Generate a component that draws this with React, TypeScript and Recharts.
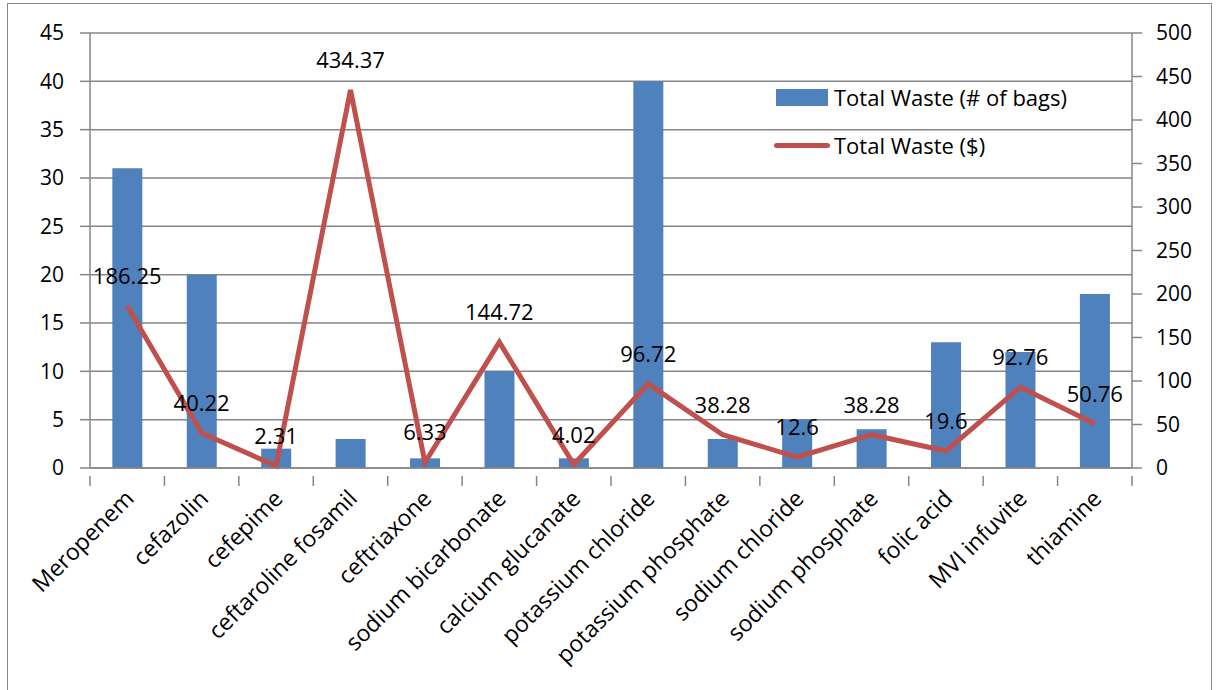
import React from 'react';
import {
  ComposedChart,
  Bar,
  Line,
  XAxis,
  YAxis,
  CartesianGrid,
  LabelList,
} from 'recharts';

const drugs = [
  'Meropenem',
  'cefazolin',
  'cefepime',
  'ceftaroline fosamil',
  'ceftriaxone',
  'sodium bicarbonate',
  'calcium glucanate',
  'potassium chloride',
  'potassium phosphate',
  'sodium chloride',
  'sodium phosphate',
  'folic acid',
  'MVI infuvite',
  'thiamine',
];
const bags = [31, 20, 2, 3, 1, 10, 1, 40, 3, 5, 4, 13, 12, 18];
const dollars = [186.25, 40.22, 2.31, 434.37, 6.33, 144.72, 4.02, 96.72, 38.28, 12.6, 38.28, 19.6, 92.76, 50.76];
const leftTicks = [0, 5, 10, 15, 20, 25, 30, 35, 40, 45];
const rightTicks = [0, 50, 100, 150, 200, 250, 300, 350, 400, 450, 500];

const data = drugs.map((name, i) => ({ name, bags: bags[i], dollars: dollars[i] }));

const FONT = '"Open Sans", Carlito, sans-serif';
const FS = 21;
const BLUE = '#4F81BD';
const RED = '#C0504D';
const GRID = '#868686';

const PLOT_LEFT = 90;
const PLOT_RIGHT = 1132;
const STEP = (PLOT_RIGHT - PLOT_LEFT) / drugs.length;

const CategoryTick = (props: any) => {
  const { x, y, payload, index } = props;
  const half = STEP / 2;
  return (
    <g>
      <line x1={x - half} y1={y} x2={x - half} y2={y + 10} stroke={GRID} strokeWidth={1.5} />
      {index === drugs.length - 1 && (
        <line x1={x + half} y1={y} x2={x + half} y2={y + 10} stroke={GRID} strokeWidth={1.5} />
      )}
      <text
        x={x + 8}
        y={y + 24}
        transform={`rotate(-45, ${x + 8}, ${y + 24})`}
        textAnchor="end"
        fontSize={23}
        fontFamily={FONT}
        fill="#000"
      >
        {payload.value}
      </text>
    </g>
  );
};

const LegendBox = () => (
  <div
    style={{
      position: 'absolute',
      left: 776,
      top: 85,
      fontFamily: FONT,
      fontSize: 22,
      color: '#000',
      lineHeight: '24px',
      whiteSpace: 'nowrap',
    }}
  >
    <div style={{ display: 'flex', alignItems: 'center', height: 24 }}>
      <span style={{ display: 'inline-block', width: 52, height: 17, background: BLUE, marginRight: 6 }} />
      Total Waste (# of bags)
    </div>
    <div style={{ display: 'flex', alignItems: 'center', height: 24, marginTop: 24 }}>
      <span
        style={{
          display: 'inline-block',
          width: 56,
          height: 5,
          borderRadius: 3,
          background: RED,
          marginRight: 4,
          marginLeft: -2,
        }}
      />
      Total Waste ($)
    </div>
  </div>
);

export default function App() {
  return (
    <div style={{ position: 'absolute', left: 0, top: 0, width: 1218, height: 690, background: '#fff' }}>
      <div
        style={{
          position: 'absolute',
          left: 7,
          top: 3,
          width: 1205,
          height: 690,
          border: '1.5px solid #898989',
          boxSizing: 'border-box',
        }}
      />
      <ComposedChart
        width={1218}
        height={690}
        data={data}
        margin={{ top: 33, right: 16, left: 0, bottom: 22 }}
        barCategoryGap="30%"
        style={{ position: 'absolute', left: 0, top: 0 }}
      >
        <CartesianGrid vertical={false} stroke={GRID} strokeWidth={1.5} yAxisId="left" />
        <XAxis
          dataKey="name"
          interval={0}
          height={200}
          tickLine={false}
          axisLine={{ stroke: GRID, strokeWidth: 1.5 }}
          tick={<CategoryTick />}
        />
        <YAxis
          yAxisId="left"
          width={90}
          domain={[0, 45]}
          ticks={leftTicks}
          interval={0}
          tickSize={10}
          tickMargin={16}
          tickLine={{ stroke: GRID, strokeWidth: 1.5 }}
          axisLine={{ stroke: GRID, strokeWidth: 1.5 }}
          tick={{ fontSize: FS, fontFamily: FONT, fill: '#000' }}
        />
        <YAxis
          yAxisId="right"
          orientation="right"
          width={70}
          domain={[0, 500]}
          ticks={rightTicks}
          interval={0}
          tickSize={10}
          tickMargin={14}
          tickLine={{ stroke: GRID, strokeWidth: 1.5 }}
          axisLine={{ stroke: GRID, strokeWidth: 1.5 }}
          tick={{ fontSize: FS, fontFamily: FONT, fill: '#000' }}
        />
        <Bar
          yAxisId="left"
          dataKey="bags"
          name="Total Waste (# of bags)"
          fill={BLUE}
          isAnimationActive={false}
        />
        <Line
          yAxisId="right"
          dataKey="dollars"
          name="Total Waste ($)"
          stroke={RED}
          strokeWidth={5}
          dot={false}
          type="linear"
          isAnimationActive={false}
        >
          <LabelList
            dataKey="dollars"
            position="top"
            offset={22}
            style={{ fontSize: 22, fontFamily: FONT, fill: '#000' }}
          />
        </Line>
      </ComposedChart>
      <LegendBox />
    </div>
  );
}
